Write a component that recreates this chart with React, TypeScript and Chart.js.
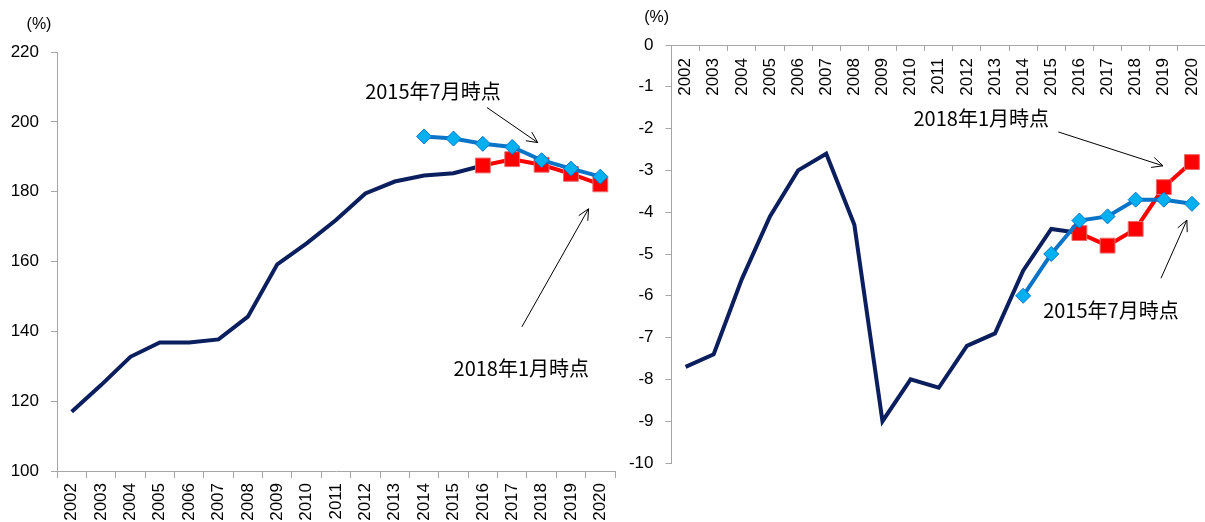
import React, { useEffect, useRef } from "react";
import { Chart, registerables } from "chart.js";

Chart.register(...registerables);

// ---------- data ----------
const years = [
  "2002", "2003", "2004", "2005", "2006", "2007", "2008", "2009", "2010", "2011",
  "2012", "2013", "2014", "2015", "2016", "2017", "2018", "2019", "2020",
];

// Left chart: debt ratio (%)
const debtActual = [117.0, 124.6, 132.7, 136.8, 136.8, 137.7, 144.2, 159.2, 165.2, 171.9, 179.5, 182.9, 184.6, 185.3, 187.5, null, null, null, null];
const debtJan2018 = [null, null, null, null, null, null, null, null, null, null, null, null, null, null, 187.5, 189.3, 187.7, 185.1, 182.1];
const debtJul2015 = [null, null, null, null, null, null, null, null, null, null, null, null, 195.8, 195.2, 193.7, 192.8, 189.0, 186.6, 184.3];

// Right chart: fiscal balance (%)
const balanceActual = [-7.7, -7.4, -5.6, -4.1, -3.0, -2.6, -4.3, -9.0, -8.0, -8.2, -7.2, -6.9, -5.4, -4.4, -4.5, null, null, null, null];
const balanceJan2018 = [null, null, null, null, null, null, null, null, null, null, null, null, null, null, -4.5, -4.8, -4.4, -3.4, -2.8];
const balanceJul2015 = [null, null, null, null, null, null, null, null, null, null, null, null, -6.0, -5.0, -4.2, -4.1, -3.7, -3.7, -3.8];

const leftTicks = { min: 100, max: 220, step: 20 };
const rightTicks = { min: -10, max: 0, step: 1 };

const labelJul2015 = "2015年7月時点";
const labelJan2018 = "2018年1月時点";
const unitLabel = "(%)";

// annotation placement (data coordinates: category index, value)
const leftNotes = [
  { text: labelJul2015, x: 12.3, y: 208.7 },
  { text: labelJan2018, x: 15.31, y: 129.5 },
];
const leftArrows = [
  { x1: 14.14, y1: 204.1, x2: 15.87, y2: 194.05 },
  { x1: 15.33, y1: 141.3, x2: 17.6, y2: 175.1 },
];
const rightNotes = [
  { text: labelJan2018, x: 10.51, y: -1.75 },
  { text: labelJul2015, x: 15.12, y: -6.34 },
];
const rightArrows = [
  { x1: 13.25, y1: -2.08, x2: 16.97, y2: -2.89 },
  { x1: 16.9, y1: -5.58, x2: 17.82, y2: -4.19 },
];

// ---------- styles ----------
const NAVY = "#0b1f5e";
const BLUE_LINE = "#0a74c8";
const BLUE_FILL = "#00b0f0";
const RED = "#ff0000";
const AXIS = "#a6a6a6";
const TICK_FONT = { family: '"Liberation Sans", Arial, sans-serif', size: 17 };
const NOTE_FONT = '20px "Noto Sans CJK JP", sans-serif';
const UNIT_FONT = '16px "Liberation Sans", Arial, sans-serif';

type Note = { text: string; x: number; y: number };
type Arrow = { x1: number; y1: number; x2: number; y2: number };

function makeDatasets(actual: (number | null)[], jan: (number | null)[], jul: (number | null)[]) {
  return [
    {
      label: labelJul2015,
      data: jul,
      borderColor: BLUE_LINE,
      borderWidth: 4,
      pointStyle: "rectRot" as const,
      pointRadius: 7.5,
      pointBackgroundColor: BLUE_FILL,
      pointBorderColor: BLUE_LINE,
      pointBorderWidth: 1,
      spanGaps: false,
      clip: false,
    },
    {
      label: labelJan2018,
      data: jan,
      borderColor: RED,
      borderWidth: 4,
      pointStyle: "rect" as const,
      pointRadius: 10.5,
      pointBackgroundColor: RED,
      pointBorderColor: "#e86a6a",
      pointBorderWidth: 1,
      spanGaps: false,
      clip: false,
    },
    {
      label: "actual",
      data: actual,
      borderColor: NAVY,
      borderWidth: 4,
      pointRadius: 0,
      spanGaps: false,
      clip: false,
    },
  ];
}

function annotationPlugin(notes: Note[], arrows: Arrow[], unit: { x: number; y: number }) {
  return {
    id: "annotations",
    afterDraw(chart: any) {
      const { ctx, scales } = chart;
      const xs = scales.x;
      const ys = scales.y;
      ctx.save();
      ctx.fillStyle = "#000";
      ctx.font = UNIT_FONT;
      ctx.textAlign = "center";
      ctx.textBaseline = "middle";
      ctx.fillText(unitLabel, unit.x, unit.y);

      ctx.font = NOTE_FONT;
      notes.forEach((n) => {
        ctx.fillText(n.text, xs.getPixelForValue(n.x), ys.getPixelForValue(n.y));
      });

      ctx.strokeStyle = "#000";
      ctx.lineWidth = 1;
      arrows.forEach((a) => {
        const x1 = xs.getPixelForValue(a.x1);
        const y1 = ys.getPixelForValue(a.y1);
        const x2 = xs.getPixelForValue(a.x2);
        const y2 = ys.getPixelForValue(a.y2);
        const ang = Math.atan2(y2 - y1, x2 - x1);
        const head = 12;
        const spread = Math.PI / 7;
        ctx.beginPath();
        ctx.moveTo(x1, y1);
        ctx.lineTo(x2, y2);
        ctx.moveTo(x2 - head * Math.cos(ang - spread), y2 - head * Math.sin(ang - spread));
        ctx.lineTo(x2, y2);
        ctx.lineTo(x2 - head * Math.cos(ang + spread), y2 - head * Math.sin(ang + spread));
        ctx.stroke();
      });
      ctx.restore();
    },
  };
}

function DebtChart() {
  const ref = useRef<HTMLCanvasElement>(null);
  useEffect(() => {
    if (!ref.current) return;
    const chart = new Chart(ref.current, {
      type: "line",
      data: { labels: years, datasets: makeDatasets(debtActual, debtJan2018, debtJul2015) as any },
      options: {
        responsive: false,
        animation: false,
        events: [],
        layout: { autoPadding: false, padding: { top: 52, right: 5, bottom: 0, left: 0 } },
        plugins: { legend: { display: false }, tooltip: { enabled: false } },
        scales: {
          x: {
            type: "category",
            offset: true,
            grid: { display: true, drawOnChartArea: false, drawTicks: true, tickLength: 7, color: AXIS, offset: true },
            border: { display: true, color: AXIS, width: 1 },
            ticks: { minRotation: 90, maxRotation: 90, autoSkip: false, padding: 5, color: "#000", font: TICK_FONT },
            afterFit: (s: any) => { s.height = 51; s.paddingLeft = 0; s.paddingRight = 0; },
          },
          y: {
            min: leftTicks.min,
            max: leftTicks.max,
            grid: { display: true, drawOnChartArea: false, drawTicks: true, tickLength: 6, color: AXIS },
            border: { display: true, color: AXIS, width: 1 },
            ticks: { stepSize: leftTicks.step, padding: 12, color: "#000", font: TICK_FONT },
            afterFit: (s: any) => { s.width = 57; },
          },
        },
      } as any,
      plugins: [annotationPlugin(leftNotes, leftArrows, { x: 39, y: 25 })],
    });
    return () => chart.destroy();
  }, []);
  return (
    <canvas
      ref={ref}
      width={620}
      height={522}
      style={{ position: "absolute", left: 0, top: 0, width: 620, height: 522 }}
    />
  );
}

function BalanceChart() {
  const ref = useRef<HTMLCanvasElement>(null);
  useEffect(() => {
    if (!ref.current) return;
    const chart = new Chart(ref.current, {
      type: "line",
      data: { labels: years, datasets: makeDatasets(balanceActual, balanceJan2018, balanceJul2015) as any },
      options: {
        responsive: false,
        animation: false,
        events: [],
        layout: { autoPadding: false, padding: { top: 45, right: 0, bottom: 59, left: 0 } },
        plugins: { legend: { display: false }, tooltip: { enabled: false } },
        scales: {
          x: {
            type: "category",
            axis: "x",
            position: { y: 0 } as any,
            offset: true,
            grid: { display: true, drawOnChartArea: false, drawTicks: true, tickLength: 5, color: AXIS, offset: true },
            border: { display: true, color: AXIS, width: 1 },
            ticks: { minRotation: 90, maxRotation: 90, autoSkip: false, padding: 8, color: "#000", font: TICK_FONT },
            afterFit: (s: any) => { s.paddingLeft = 0; s.paddingRight = 0; },
          },
          y: {
            min: rightTicks.min,
            max: rightTicks.max,
            grid: { display: true, drawOnChartArea: false, drawTicks: true, tickLength: 6, color: AXIS },
            border: { display: true, color: AXIS, width: 1 },
            ticks: { stepSize: rightTicks.step, padding: 12, color: "#000", font: TICK_FONT },
            afterFit: (s: any) => { s.width = 51.5; },
          },
        },
      } as any,
      plugins: [annotationPlugin(rightNotes, rightArrows, { x: 36.7, y: 18 })],
    });
    return () => chart.destroy();
  }, []);
  return (
    <canvas
      ref={ref}
      width={586}
      height={522}
      style={{ position: "absolute", left: 620, top: 0, width: 586, height: 522 }}
    />
  );
}

export default function App() {
  return (
    <div
      style={{
        position: "fixed",
        left: 0,
        top: 0,
        width: 1205,
        height: 522,
        background: "#fff",
        overflow: "hidden",
      }}
    >
      <DebtChart />
      <BalanceChart />
    </div>
  );
}
